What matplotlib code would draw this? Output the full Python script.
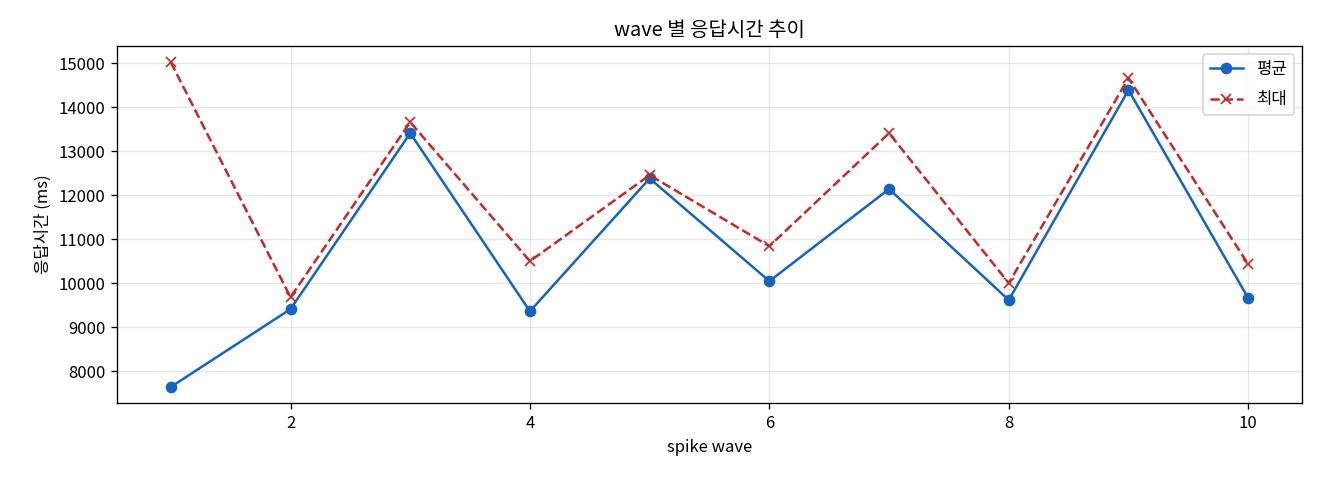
import matplotlib
matplotlib.use("Agg")
import matplotlib.pyplot as plt

plt.rcParams['font.family'] = ['Noto Sans CJK KR', 'DejaVu Sans']
plt.rcParams['axes.unicode_minus'] = False

# --- data ---
waves = [1, 2, 3, 4, 5, 6, 7, 8, 9, 10]
avg_ms = [7640, 9410, 13410, 9360, 12380, 10045, 12140, 9615, 14390, 9660]
max_ms = [15020, 9680, 13660, 10500, 12455, 10840, 13410, 10000, 14660, 10430]

fig, ax = plt.subplots(figsize=(11, 4), dpi=120)

ax.plot(waves, avg_ms, marker='o', color='#1565C0', label='평균')
ax.plot(waves, max_ms, marker='x', linestyle='--', color='#C62828', label='최대')

ax.set_title('wave 별 응답시간 추이')
ax.set_xlabel('spike wave')
ax.set_ylabel('응답시간 (ms)')
ax.grid(True, alpha=0.3)
ax.legend(loc='upper right', labelspacing=0.8)

# match the reference plot area
fig.subplots_adjust(left=0.0886, right=0.9864, top=0.904, bottom=0.160)
fig.savefig('out.png')
